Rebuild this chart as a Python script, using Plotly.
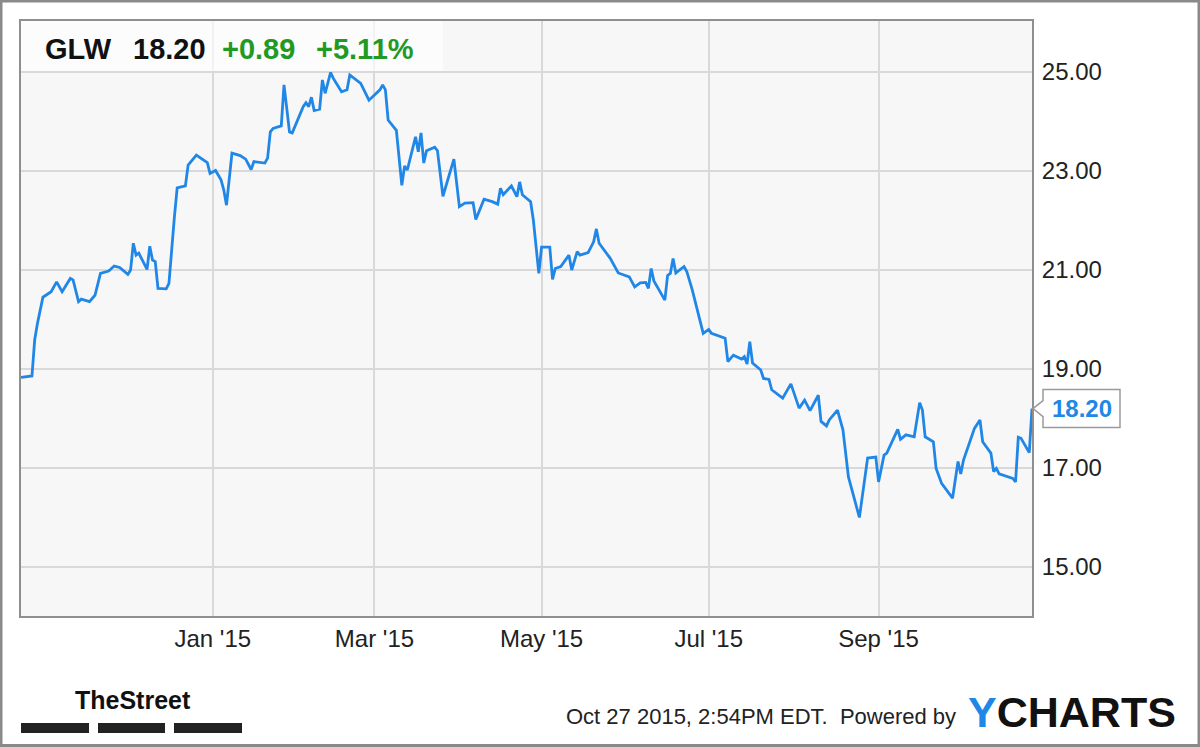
import plotly.graph_objects as go

# ---------------- data ----------------
dates = [
    # 2014
    "2014-10-23", "2014-10-27", "2014-10-28", "2014-10-29", "2014-10-31",
    "2014-11-03", "2014-11-05", "2014-11-07", "2014-11-10", "2014-11-11", "2014-11-13", "2014-11-14",
    "2014-11-17", "2014-11-19", "2014-11-21", "2014-11-24", "2014-11-26", "2014-11-28",
    "2014-12-01", "2014-12-02", "2014-12-03", "2014-12-04", "2014-12-05", "2014-12-07", "2014-12-08",
    "2014-12-09", "2014-12-10", "2014-12-11", "2014-12-12", "2014-12-15", "2014-12-16", "2014-12-18",
    "2014-12-19", "2014-12-22", "2014-12-23", "2014-12-26", "2014-12-28", "2014-12-30", "2014-12-31",
    # Jan
    "2015-01-02", "2015-01-04", "2015-01-05", "2015-01-06", "2015-01-08", "2015-01-11", "2015-01-13",
    "2015-01-15", "2015-01-16", "2015-01-20", "2015-01-21", "2015-01-22", "2015-01-23", "2015-01-26",
    "2015-01-27", "2015-01-29", "2015-01-30",
    # Feb
    "2015-02-03", "2015-02-04", "2015-02-05", "2015-02-06", "2015-02-07", "2015-02-09", "2015-02-10",
    "2015-02-11", "2015-02-13", "2015-02-14", "2015-02-17", "2015-02-19", "2015-02-20", "2015-02-23",
    "2015-02-24", "2015-02-27",
    # Mar
    "2015-03-02", "2015-03-03", "2015-03-04", "2015-03-05", "2015-03-06", "2015-03-09", "2015-03-11",
    "2015-03-12", "2015-03-13", "2015-03-16", "2015-03-17", "2015-03-18", "2015-03-19", "2015-03-20",
    "2015-03-23", "2015-03-24", "2015-03-26", "2015-03-30",
    # Apr
    "2015-04-01", "2015-04-03", "2015-04-06", "2015-04-07", "2015-04-10", "2015-04-13", "2015-04-15",
    "2015-04-16", "2015-04-17", "2015-04-20", "2015-04-22", "2015-04-23", "2015-04-24", "2015-04-27",
    "2015-04-28", "2015-04-30",
    # May
    "2015-05-01", "2015-05-04", "2015-05-05", "2015-05-06", "2015-05-08", "2015-05-11", "2015-05-12",
    "2015-05-14", "2015-05-15", "2015-05-18", "2015-05-20", "2015-05-21", "2015-05-22", "2015-05-26",
    "2015-05-29",
    # Jun
    "2015-06-01", "2015-06-02", "2015-06-04", "2015-06-06", "2015-06-08", "2015-06-09", "2015-06-10",
    "2015-06-11", "2015-06-15", "2015-06-16", "2015-06-17", "2015-06-18", "2015-06-19", "2015-06-22",
    "2015-06-23", "2015-06-25", "2015-06-29",
    # Jul
    "2015-07-01", "2015-07-02", "2015-07-07", "2015-07-08", "2015-07-10", "2015-07-13", "2015-07-14",
    "2015-07-15", "2015-07-16", "2015-07-17", "2015-07-20", "2015-07-21", "2015-07-23", "2015-07-24",
    "2015-07-28", "2015-07-31",
    # Aug
    "2015-08-03", "2015-08-05", "2015-08-07", "2015-08-10", "2015-08-11", "2015-08-13", "2015-08-14",
    "2015-08-17", "2015-08-19", "2015-08-21", "2015-08-25", "2015-08-28", "2015-08-31",
    # Sep
    "2015-09-01", "2015-09-03", "2015-09-04", "2015-09-08", "2015-09-09", "2015-09-11", "2015-09-14",
    "2015-09-16", "2015-09-17", "2015-09-18", "2015-09-21", "2015-09-22", "2015-09-24", "2015-09-28",
    "2015-09-30",
    # Oct
    "2015-10-01", "2015-10-02", "2015-10-06", "2015-10-08", "2015-10-09", "2015-10-12", "2015-10-13",
    "2015-10-14", "2015-10-15", "2015-10-20", "2015-10-21", "2015-10-22", "2015-10-23", "2015-10-26",
    "2015-10-27",
]

prices = [
    # 2014
    18.83, 18.86, 19.59, 19.92, 20.45,
    20.56, 20.76, 20.56, 20.83, 20.80, 20.36, 20.41,
    20.36, 20.49, 20.93, 20.98, 21.08, 21.05,
    20.91, 21.00, 21.54, 21.30, 21.34, 21.10, 21.01,
    21.48, 21.20, 21.17, 20.63, 20.62, 20.73, 22.08,
    22.66, 22.70, 23.12, 23.32, 23.24, 23.17, 22.95,
    # Jan
    23.01, 22.82, 22.62, 22.31, 23.36, 23.31, 23.24,
    23.03, 23.19, 23.16, 23.26, 23.79, 23.86, 23.91,
    24.74, 23.79, 23.77,
    # Feb
    24.30, 24.38, 24.30, 24.49, 24.22, 24.25, 24.84,
    24.57, 24.99, 24.87, 24.60, 24.64, 24.94, 24.80,
    24.77, 24.43,
    # Mar
    24.60, 24.64, 24.74, 24.64, 24.03, 23.82, 22.71,
    23.10, 23.02, 23.69, 23.39, 23.77, 23.16, 23.41,
    23.48, 23.41, 22.49, 23.24,
    # Apr
    22.28, 22.35, 22.36, 22.02, 22.43, 22.38, 22.33,
    22.65, 22.52, 22.70, 22.48, 22.78, 22.52, 22.38,
    22.01, 20.93,
    # May
    21.46, 21.46, 20.81, 21.03, 21.07, 21.30, 21.00,
    21.37, 21.30, 21.35, 21.57, 21.83, 21.54, 21.24,
    20.94,
    # Jun
    20.87, 20.86, 20.66, 20.74, 20.75, 20.63, 21.03,
    20.78, 20.39, 20.89, 20.93, 21.23, 20.94, 21.07,
    20.97, 20.60, 19.72,
    # Jul
    19.80, 19.72, 19.62, 19.15, 19.28, 19.20, 19.25,
    19.10, 19.55, 19.12, 18.98, 18.81, 18.79, 18.58,
    18.41, 18.70,
    # Aug
    18.21, 18.37, 18.16, 18.47, 17.94, 17.85, 17.97,
    18.17, 17.77, 16.82, 16.00, 17.20, 17.22,
    # Sep
    16.72, 17.26, 17.30, 17.78, 17.58, 17.67, 17.63,
    18.32, 18.17, 17.63, 17.53, 16.99, 16.69, 16.39,
    17.13,
    # Oct
    16.88, 17.16, 17.80, 17.97, 17.53, 17.30, 16.93,
    16.99, 16.88, 16.79, 16.72, 17.62, 17.60, 17.31,
    18.20,
]
assert len(dates) == len(prices)

ticker = "GLW"
last_price = "18.20"
change_abs = "+0.89"
change_pct = "+5.11%"

x_tick_vals = ["2015-01-01", "2015-03-01", "2015-05-01", "2015-07-01", "2015-09-01"]
x_tick_text = ["Jan '15", "Mar '15", "May '15", "Jul '15", "Sep '15"]
y_tick_vals = [15, 17, 19, 21, 23, 25]
y_tick_text = ["15.00", "17.00", "19.00", "21.00", "23.00", "25.00"]
y_range = [14.01, 26.03]

timestamp_text = "Oct 27 2015, 2:54PM EDT.  Powered by"

# ---------------- styling ----------------
LINE_BLUE = "#2187e7"
GREEN = "#229922"
FONT = "Liberation Sans, Arial, sans-serif"

fig = go.Figure()
fig.add_trace(go.Scatter(
    x=dates, y=prices, mode="lines",
    line=dict(color=LINE_BLUE, width=2.8),
    hoverinfo="skip", showlegend=False,
))

W, H = 1200, 747
L, R, T, B = 21, 168, 21, 131
pw, ph = W - L - R, H - T - B


def px(xpix):
    return (xpix - L) / pw


def py(ypix):
    return 1 - (ypix - T) / ph


fig.update_layout(
    width=W, height=H,
    margin=dict(l=L, r=R, t=T, b=B),
    paper_bgcolor="white",
    plot_bgcolor="#f7f7f7",
    showlegend=False,
    font=dict(family=FONT, color="#222"),
    xaxis=dict(
        range=[dates[0], dates[-1]],
        tickvals=x_tick_vals, ticktext=x_tick_text,
        showgrid=True, gridcolor="#d9d9d9", gridwidth=2,
        showline=True, linecolor="#8f8f8f", linewidth=2, mirror=True,
        ticks="", tickfont=dict(size=24, color="#222", family=FONT),
        ticklabelstandoff=0,
        zeroline=False,
    ),
    yaxis=dict(
        range=y_range, side="right",
        tickvals=y_tick_vals, ticktext=y_tick_text,
        showgrid=True, gridcolor="#d9d9d9", gridwidth=2,
        showline=True, linecolor="#8f8f8f", linewidth=2, mirror=True,
        ticks="", tickfont=dict(size=24, color="#222", family=FONT),
        ticklabelstandoff=3,
        zeroline=False,
    ),
)

last_frac = (prices[-1] - y_range[0]) / (y_range[1] - y_range[0])

shapes = []
# header box (semi transparent white)
shapes.append(dict(type="rect", xref="paper", yref="paper",
                   x0=0, x1=px(443), y0=py(71), y1=1,
                   fillcolor="rgba(255,255,255,0.65)", line=dict(width=0), layer="above"))
# callout for the last price
shapes.append(dict(type="path", xref="paper", yref="paper",
                   xsizemode="pixel", ysizemode="pixel",
                   xanchor=1, yanchor=last_frac,
                   path="M 11,8 L 1,0 L 11,-8 L 11,-19 L 88,-19 L 88,19 L 11,19 Z",
                   fillcolor="white", line=dict(color="#9a9a9a", width=1.5), layer="above"))
# TheStreet bars
for a, b in [(21, 89), (98, 165), (174, 242)]:
    shapes.append(dict(type="rect", xref="paper", yref="paper",
                       x0=px(a), x1=px(b), y0=py(733), y1=py(723),
                       fillcolor="#222", line=dict(width=0)))
# outer border of the image
shapes.append(dict(type="rect", xref="paper", yref="paper",
                   x0=px(1), x1=px(W - 1), y0=py(H - 1.5), y1=py(1),
                   fillcolor="rgba(0,0,0,0)", line=dict(color="#8a8a8a", width=3)))
fig.update_layout(shapes=shapes)

ann = []
hy = py(49)
for txt, xl, col in [(ticker, 44, "#111"), (last_price, 132, "#111"),
                     (change_abs, 221, GREEN), (change_pct, 315, GREEN)]:
    ann.append(dict(text=f"<b>{txt}</b>", xref="paper", yref="paper",
                    x=px(xl), y=hy, xanchor="left", yanchor="middle", showarrow=False,
                    font=dict(size=29, color=col, family=FONT), borderpad=0))
# last price label
ann.append(dict(text=f"<b>{last_price}</b>", xref="paper", yref="paper",
                x=1, y=last_frac, xshift=50, xanchor="center", yanchor="middle",
                showarrow=False, font=dict(size=24, color=LINE_BLUE, family=FONT)))
# TheStreet logo text
ann.append(dict(text="<b>TheStreet</b>", xref="paper", yref="paper",
                x=px(73), y=py(700), xanchor="left", yanchor="middle", showarrow=False,
                font=dict(size=25, color="#111", family=FONT)))
# timestamp
ann.append(dict(text=timestamp_text, xref="paper", yref="paper",
                x=px(564), y=py(716), xanchor="left", yanchor="middle", showarrow=False,
                font=dict(size=22, color="#222", family=FONT)))
# YCHARTS logo
ann.append(dict(text=f"<b><span style='color:{LINE_BLUE}'>Y</span>CHARTS</b>", xref="paper", yref="paper",
                x=px(966), y=py(712), xanchor="left", yanchor="middle", showarrow=False,
                font=dict(size=43, color="#111", family=FONT)))
fig.update_layout(annotations=ann)

fig.write_html(
    "out.html",
    config={"displayModeBar": False},
    post_script="document.body.style.margin='0';document.body.style.overflow='hidden';",
)
